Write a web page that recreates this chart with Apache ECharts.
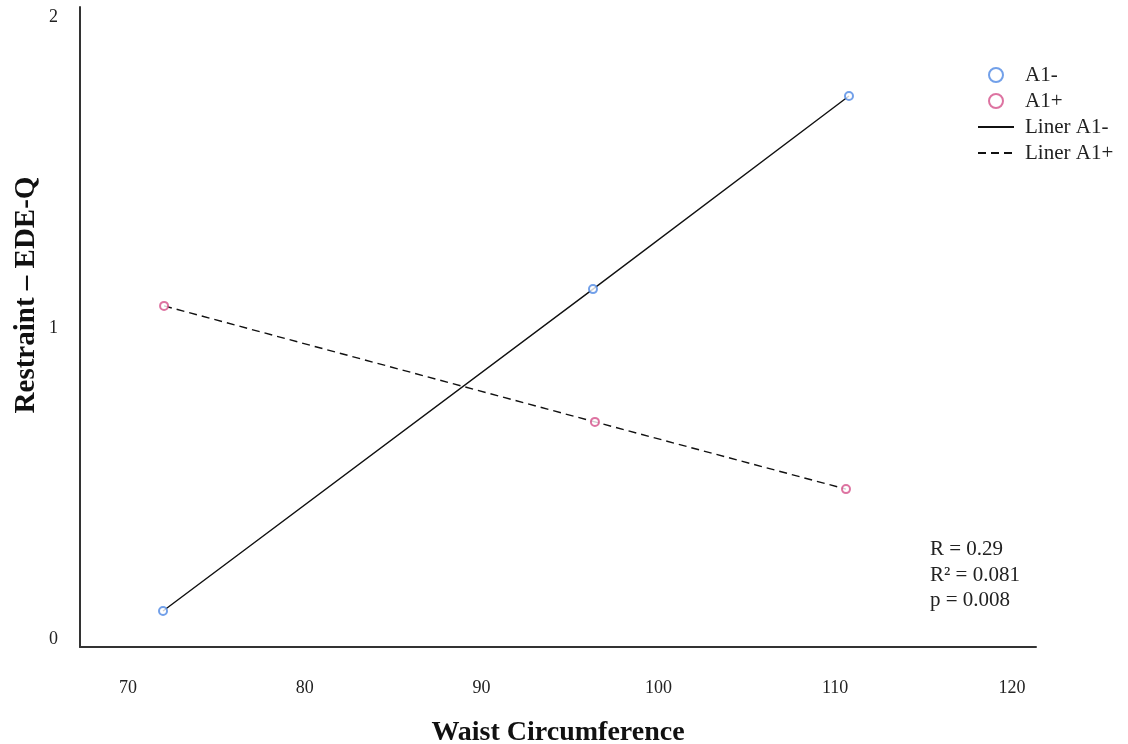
<!DOCTYPE html>
<html>
<head>
<meta charset="utf-8">
<script src="https://cdn.jsdelivr.net/npm/echarts@6/dist/echarts.min.js"></script>
<style>
html,body{margin:0;padding:0;background:#fff;}
#chart{width:1128px;height:744px;}
</style>
</head>
<body>
<div id="chart"></div>
<script>
// Data
var seriesNames = ['A1-', 'A1+', 'Liner A1-', 'Liner A1+'];
var xA1minus = [71.98, 96.30, 110.78];
var yA1minus = [0.090, 1.125, 1.746];
var xA1plus = [72.04, 96.41, 110.61];
var yA1plus = [1.071, 0.698, 0.482];
var xTickRange = [70, 120, 10];   // min, max, step of tick labels
var yTickRange = [0, 2, 1];
var statsLines = ['R = 0.29', 'R\u00B2 = 0.081', 'p = 0.008'];
var xTitle = 'Waist Circumference';
var yTitle = 'Restraint \u2013 EDE-Q';

function pairs(xs, ys) { return xs.map(function (x, i) { return [x, ys[i]]; }); }

var FONT = '"Liberation Serif", "Times New Roman", serif';
var chart = echarts.init(document.getElementById('chart'));
var blue = '#4f88e3', pink = '#d4508a';

chart.setOption({
  animation: false,
  backgroundColor: '#fff',
  textStyle: { fontFamily: FONT },
  grid: [
    { left: 80, right: 92, top: 7, bottom: 97, containLabel: false, outerBoundsMode: 'none' },
    { left: 128, right: 116, top: 17, bottom: 105, containLabel: false, outerBoundsMode: 'none' }
  ],
  legend: {
    orient: 'vertical', left: 977, top: 64, padding: 0,
    itemWidth: 36, itemHeight: 14, itemGap: 4,
    textStyle: { fontFamily: FONT, fontSize: 21, lineHeight: 22, color: '#222', padding: [0, 0, 0, 6] },
    data: [
      { name: seriesNames[0], icon: 'emptyCircle' },
      { name: seriesNames[1], icon: 'emptyCircle' },
      { name: seriesNames[2], itemStyle: { opacity: 0 } },
      { name: seriesNames[3], itemStyle: { opacity: 0 } }
    ]
  },
  xAxis: [
    {
      type: 'value', gridIndex: 0, min: 67.285, max: 121.357,
      name: xTitle, nameLocation: 'middle', nameGap: 72,
      nameTextStyle: { fontFamily: FONT, fontSize: 28, fontWeight: 'bold', color: '#111' },
      axisLine: { onZero: false, lineStyle: { color: '#333', width: 2 } },
      axisTick: { show: false }, splitLine: { show: false }, axisLabel: { show: false }
    },
    {
      type: 'value', gridIndex: 1, min: xTickRange[0], max: xTickRange[1], interval: xTickRange[2],
      axisLine: { show: false }, axisTick: { show: false }, splitLine: { show: false },
      axisLabel: { margin: 40, fontFamily: FONT, fontSize: 18, color: '#222' }
    }
  ],
  yAxis: [
    {
      type: 'value', gridIndex: 0, min: -0.0257, max: 2.032,
      axisLine: { show: true, onZero: false, lineStyle: { color: '#333', width: 2 } },
      axisTick: { show: false }, splitLine: { show: false }, axisLabel: { show: false }
    },
    {
      type: 'value', gridIndex: 1, min: yTickRange[0], max: yTickRange[1], interval: yTickRange[2],
      axisLine: { show: false }, axisTick: { show: false }, splitLine: { show: false },
      axisLabel: { margin: 70, fontFamily: FONT, fontSize: 18, color: '#222' }
    }
  ],
  series: [
    {
      name: seriesNames[2], type: 'line', data: pairs(xA1minus, yA1minus),
      symbol: 'none', lineStyle: { color: '#111', width: 1.4 }, itemStyle: { color: '#111' }, z: 2
    },
    {
      name: seriesNames[3], type: 'line', data: pairs(xA1plus, yA1plus),
      symbol: 'none', lineStyle: { color: '#111', width: 1.4, type: [8, 5] }, itemStyle: { color: '#111' }, z: 2
    },
    {
      name: seriesNames[0], type: 'scatter', data: pairs(xA1minus, yA1minus),
      symbol: 'emptyCircle', symbolSize: 8, itemStyle: { color: blue, borderWidth: 1.5 }, z: 3
    },
    {
      name: seriesNames[1], type: 'scatter', data: pairs(xA1plus, yA1plus),
      symbol: 'emptyCircle', symbolSize: 8, itemStyle: { color: pink, borderWidth: 1.5 }, z: 3
    }
  ],
  graphic: [
    {
      type: 'text', left: 930, top: 537,
      style: { text: statsLines.join('\n'), fontFamily: FONT, fontSize: 21, lineHeight: 25.5, fill: '#222' }
    },
    {
      type: 'text', x: 27, y: 295, rotation: Math.PI / 2,
      style: { text: yTitle, fontFamily: FONT, fontSize: 29, fontWeight: 'bold', fill: '#111',
               align: 'center', verticalAlign: 'middle' }
    }
  ]
});
</script>
</body>
</html>
